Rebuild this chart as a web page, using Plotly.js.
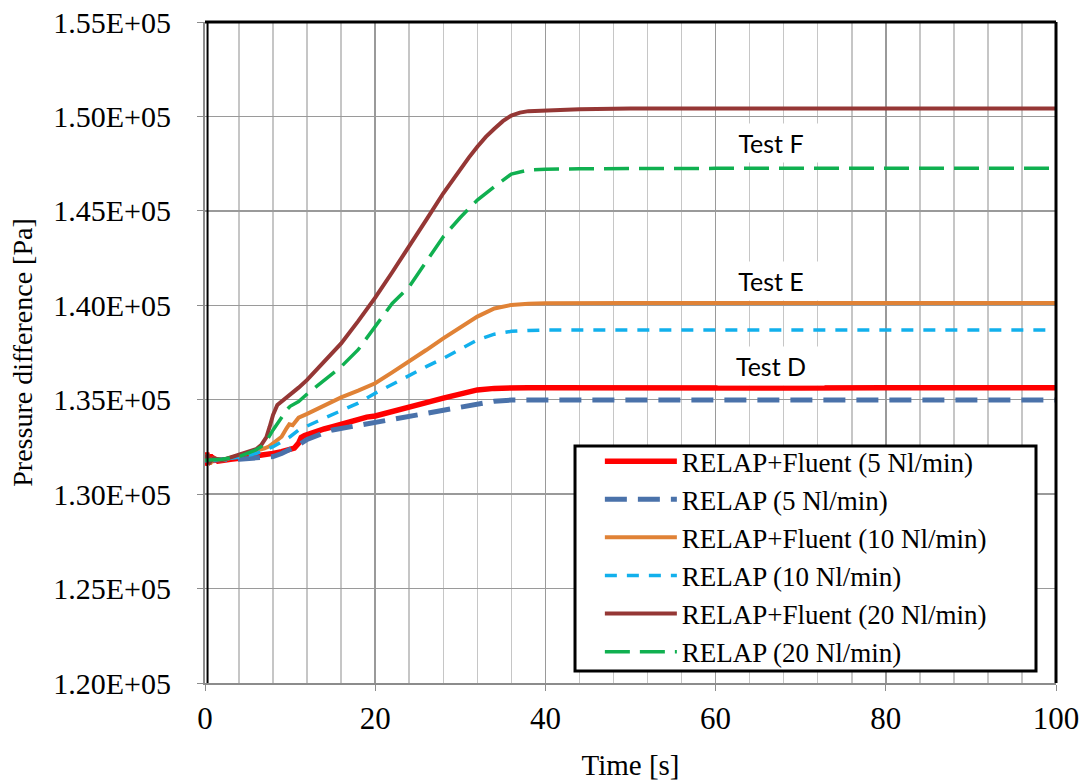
<!DOCTYPE html>
<html>
<head>
<meta charset="utf-8">
<script src="https://cdn.plot.ly/plotly-3.0.1.min.js"></script>
<style>html,body{margin:0;padding:0;background:#fff;}#chart{width:1088px;height:781px;}</style>
</head>
<body>
<div id="chart"></div>
<script>
// Test D, RELAP+Fluent (5 Nl/min)
const tRF5 = [0,0.2,0.4,0.6,0.8,1,1.5,2,3,4,5,6,7,8,9,10,10.5,11,11.3,11.7,12,13,14,15,16,17,18,19,20,22,24,26,28,30,32,34,36,38,40,50,60,70,80,90,100];
const pRF5 = [131500,132200,131600,132100,131700,131900,131750,131800,131850,131900,131950,132000,132080,132160,132250,132350,132440,132700,133000,133100,133150,133300,133450,133570,133700,133850,133980,134080,134140,134400,134630,134850,135080,135300,135520,135600,135640,135640,135640,135620,135640,135620,135640,135620,135640];
// Test D, RELAP (5 Nl/min)
const tR5 = [0,2,4,6,8,9,10,11,12,13,14,15,16,18,20,22,24,26,28,30,32,34,36,38,40,50,60,70,80,90,100];
const pR5 = [131800,131800,131850,131920,131990,132150,132340,132600,132900,133100,133250,133400,133480,133640,133790,133960,134140,134310,134490,134650,134810,134920,134980,134990,134990,134990,134990,134990,134990,134990,134990];
// Test E, RELAP+Fluent (10 Nl/min)
const tRF10 = [0,0.3,0.6,1,2,4,5,6,7,7.5,8,9,9.6,9.9,10.3,11,12,14,15,16,18,20,22,24,26,28,30,32,34,36,38,40,50,60,70,80,90,100];
const pRF10 = [131800,132100,131600,131900,131800,132040,132150,132280,132430,132520,132700,133040,133500,133700,133650,134050,134250,134700,134900,135120,135480,135870,136450,137010,137630,138250,138850,139400,139830,140020,140080,140110,140120,140120,140120,140120,140120,140120];
// Test E, RELAP (10 Nl/min)
const tR10 = [0,2,4,6,8,9,10,11,12,14,16,18,20,22,24,26,28,30,32,34,35,36,38,40,50,60,70,80,90,100];
const pR10 = [131800,131850,131950,132150,132510,132780,133040,133400,133620,134020,134420,134820,135340,135820,136310,136750,137190,137680,138160,138470,138550,138620,138670,138690,138690,138690,138690,138690,138690,138690];
// Test F, RELAP+Fluent (20 Nl/min)
const tRF20 = [0,0.3,0.6,1,2,4,5,6,6.6,7.2,7.6,8,8.5,9,9.8,11,12,14,16,18,20,22,24,26,28,30,31,32,33,34,35,36,37,38,40,44,50,60,70,80,90,100];
const pRF20 = [131800,132100,131700,131900,131800,132080,132200,132380,132600,133000,133570,134200,134720,134900,135160,135640,136050,137000,137980,139160,140400,141750,143100,144520,145930,147250,147820,148400,148920,149350,149750,150050,150200,150280,150330,150380,150420,150420,150420,150420,150420,150420];
// Test F, RELAP (20 Nl/min)
const tR20 = [0,2,4,5,6,6.6,7.2,8,8.5,9,9.6,10,11,12,14,16,18,20,22,24,26,28,30,32,34,36,38,40,44,50,60,70,80,90,100];
const pR20 = [131800,131850,131990,132150,132350,132510,132800,133400,133750,134100,134460,134650,134900,135300,136000,136750,137650,138870,140100,140990,142300,143630,144650,145570,146280,146950,147160,147200,147230,147250,147250,147250,147250,147250,147250];

const seriesNames = ['RELAP+Fluent (5 Nl/min)','RELAP (5 Nl/min)','RELAP+Fluent (10 Nl/min)','RELAP (10 Nl/min)','RELAP+Fluent (20 Nl/min)','RELAP (20 Nl/min)'];
const yTickVals = [120000,125000,130000,135000,140000,145000,150000,155000];
const yTickText = ['1.20E+05','1.25E+05','1.30E+05','1.35E+05','1.40E+05','1.45E+05','1.50E+05','1.55E+05'];
const testLabels = ['Test F','Test E','Test D'];
const testX = [66.5,66.5,66.5];
const testY = [148600,141300,136800];

const traces = [
  {x:tRF5, y:pRF5, name:seriesNames[0], mode:'lines', line:{color:'#ff0000', width:5.5}},
  {x:tR5, y:pR5, name:seriesNames[1], mode:'lines', line:{color:'#4a72aa', width:5, dash:'22px,11px'}},
  {x:tRF10, y:pRF10, name:seriesNames[2], mode:'lines', line:{color:'#e08236', width:4}},
  {x:tR10, y:pR10, name:seriesNames[3], mode:'lines', line:{color:'#12b0ec', width:3.5, dash:'12px,10px'}},
  {x:tRF20, y:pRF20, name:seriesNames[4], mode:'lines', line:{color:'#953735', width:4}},
  {x:tR20, y:pR20, name:seriesNames[5], mode:'lines', line:{color:'#10b050', width:3.5, dash:'25px,10px'}}
];

const serif = 'Liberation Serif, Times New Roman, serif';
const annotations = testLabels.map((t,i)=>({
  x:testX[i], y:testY[i], xref:'x', yref:'y', text:t, showarrow:false,
  font:{family:'Lato, Carlito, sans-serif', size:25, color:'#000'},
  bgcolor:'#ffffff', width:104, height:36, align:'center'
}));

const layout = {
  width:1088, height:781,
  margin:{l:205, r:32, t:22, b:98},
  paper_bgcolor:'#fff', plot_bgcolor:'#fff',
  showlegend:true,
  legend:{x:0.464, y:0.372, xanchor:'left', yanchor:'top', bgcolor:'rgba(0,0,0,0)', borderwidth:0,
          font:{family:serif, size:27, color:'#000'}, itemwidth:72, tracegroupgap:0},
  xaxis:{range:[0,100], dtick:20, tick0:0, showgrid:true, gridcolor:'#9a9a9a', gridwidth:1.5,
         minor:{dtick:4, showgrid:true, gridcolor:'#c6c6c6', gridwidth:1.5, ticks:''},
         showline:true, linecolor:'#8c8c8c', linewidth:2, ticks:'outside', ticklen:6, tickcolor:'#8c8c8c',
         ticklabelstandoff:1, zeroline:false,
         tickfont:{family:serif, size:31, color:'#000'},
         title:{text:'Time [s]', font:{family:serif, size:29, color:'#000'}, standoff:22}},
  yaxis:{range:[120000,155000], tickvals:yTickVals, ticktext:yTickText, showgrid:true, gridcolor:'#9a9a9a', gridwidth:1.5,
         showline:true, linecolor:'#8c8c8c', linewidth:2, ticks:'outside', ticklen:6, tickcolor:'#8c8c8c',
         ticklabelstandoff:20, zeroline:false,
         tickfont:{family:serif, size:30, color:'#000'},
         title:{text:'Pressure difference [Pa]', font:{family:serif, size:28, color:'#000'}, standoff:12}},
  shapes:[
    {type:'line', xref:'paper', yref:'paper', x0:0, x1:1, y0:1, y1:1, line:{color:'#000', width:3}},
    {type:'line', xref:'paper', yref:'paper', x0:1, x1:1, y0:0, y1:1, line:{color:'#000', width:3}},
    {type:'line', xref:'paper', yref:'paper', x0:0.003, x1:0.003, y0:0, y1:1, line:{color:'#000', width:2}},
    {type:'rect', xref:'paper', yref:'paper', layer:'above', x0:0.4348, x1:0.9765, y0:0.018, y1:0.3585,
     fillcolor:'#ffffff', line:{color:'#000', width:3}}
  ],
  annotations:annotations
};

Plotly.newPlot('chart', traces, layout, {displayModeBar:false, staticPlot:true});
</script>
</body>
</html>
